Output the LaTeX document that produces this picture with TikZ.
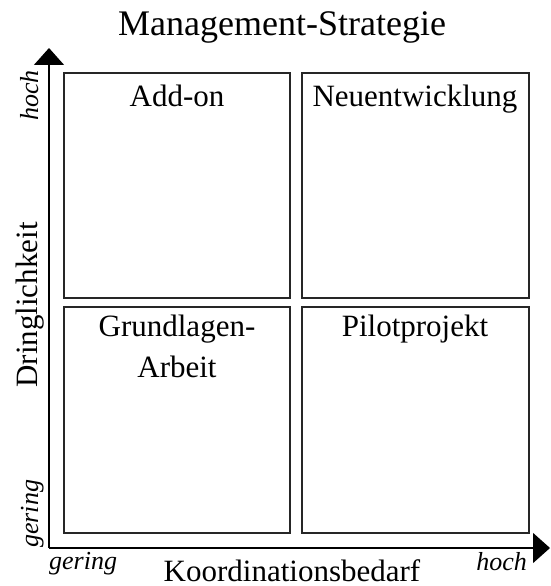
\documentclass[tikz,border=0pt]{standalone}
\usepackage{fontspec}
\setmainfont{Liberation Serif}
\usetikzlibrary{arrows.meta}
\begin{document}
\begin{tikzpicture}[x=1pt,y=-1pt,
  quad/.style={draw=black!85,line width=1.1pt},
  axis/.style={draw=black,line width=1.4pt,-{Triangle[length=17pt,width=30pt]}},
  big/.style={font=\fontsize{31}{41}\selectfont,inner sep=0pt},
  title/.style={font=\fontsize{36}{43}\selectfont,inner sep=0pt},
  levellabel/.style={font=\fontsize{26}{31}\selectfont\itshape,inner sep=0pt}]
\useasboundingbox (0,0) rectangle (550,586);
% quadrants
\draw[quad] (64,73) rectangle (290,298);
\draw[quad] (302,73) rectangle (529,298);
\draw[quad] (64,307) rectangle (290,533);
\draw[quad] (302,307) rectangle (529,533);
% axes
\coordinate (origin) at (49,548);
\coordinate (ytip) at (49,48);
\coordinate (xtip) at (550,548);
\draw[axis] (origin) -- (ytip);
\draw[axis] (origin) -- (xtip);
% titles
\node[title,anchor=base] (ttl) at (282,36) {Management-Strategie};
\node[big,anchor=base] (xlab) at (292,581) {Koordinationsbedarf};
\node[big,anchor=base,rotate=90] (ylab) at (37,305) {Dringlichkeit};
% level labels
\node[levellabel,anchor=base east,rotate=90] (yhi) at (38,70) {hoch};
\node[levellabel,anchor=base west,rotate=90] (ylo) at (38,548) {gering};
\node[levellabel,anchor=base west] (xlo) at (49,569) {gering};
\node[levellabel,anchor=base east] (xhi) at (527,570) {hoch};
% quadrant labels (base of a two-line node is its last line)
\node[big,anchor=base] (q1) at (177,106) {Add-on};
\node[big,anchor=base] (q2) at (415,106) {Neuentwicklung};
\node[big,anchor=base,align=center] (q3) at (177,377) {Grundlagen-\\Arbeit};
\node[big,anchor=base] (q4) at (415,336) {Pilotprojekt};
\end{tikzpicture}
\end{document}
